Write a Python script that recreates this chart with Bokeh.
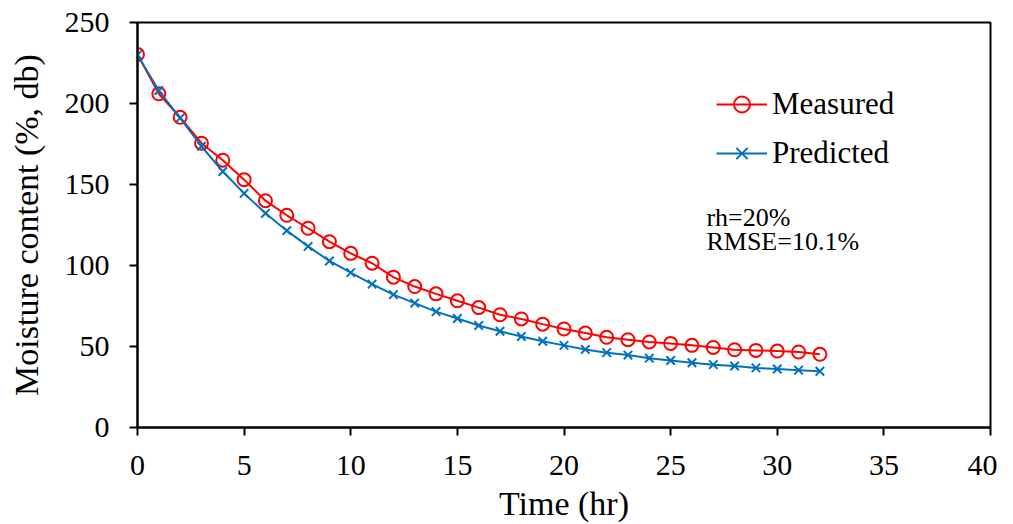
from bokeh.plotting import figure
from bokeh.models import Range1d, FixedTicker, Legend, LegendItem, Label
from bokeh.embed import file_html
from bokeh.resources import INLINE

time_hr = list(range(0, 33))
measured = [230.3, 206, 191.5, 175.5, 165, 153, 140, 131, 123, 114.7, 107.5, 101.4,
            92.8, 87, 82.5, 78.2, 74, 69.6, 67, 63.8, 60.8, 58.3, 55.7, 54.2, 52.8,
            51.9, 50.7, 49.4, 48, 47.6, 47.2, 46.6, 45.2]
predicted = [230, 208, 191, 173.6, 158, 144.5, 132.2, 121.5, 111.8, 102.8, 95.6, 88.5,
             82, 76.8, 71.5, 67.3, 63, 59.4, 56.2, 53.2, 50.7, 48.2, 46.2, 44.7, 42.8,
             41.4, 40, 38.8, 38, 36.8, 36.1, 35.4, 34.7]
x_ticks = [0, 5, 10, 15, 20, 25, 30, 35, 40]
y_ticks = [0, 50, 100, 150, 200, 250]
series_names = ["Measured", "Predicted"]
note_lines = ["rh=20%", "RMSE=10.1%"]

FONT = "Liberation Serif"
RED = "#FF0000"
BLUE = "#0070C0"

p = figure(width=997, height=524, output_backend="svg", toolbar_location=None,
           x_range=Range1d(0, 40), y_range=Range1d(0, 250),
           min_border_left=137, min_border_right=7, min_border_top=22, min_border_bottom=95)
p.xgrid.visible = False
p.ygrid.visible = False
p.outline_line_color = "black"
p.outline_line_width = 2
p.background_fill_color = "white"
p.border_fill_color = "white"

for ax, ticks in ((p.xaxis[0], x_ticks), (p.yaxis[0], y_ticks)):
    ax.ticker = FixedTicker(ticks=ticks)
    ax.minor_tick_line_color = None
    ax.major_tick_in = 0
    ax.major_tick_out = 8
    ax.major_tick_line_width = 2
    ax.axis_line_width = 2
    ax.axis_line_color = "black"
    ax.major_tick_line_color = "black"
    ax.major_label_text_font = FONT
    ax.major_label_text_font_size = "30px"
    ax.major_label_text_color = "black"
    ax.axis_label_text_font = FONT
    ax.axis_label_text_font_size = "34px"
    ax.axis_label_text_font_style = "normal"
    ax.axis_label_text_color = "black"

p.xaxis.axis_label = "Time (hr)"
p.yaxis.axis_label = "Moisture content (%, db)"
p.xaxis.major_label_standoff = 20
p.xaxis.axis_label_standoff = 7
p.yaxis.major_label_standoff = 20
p.yaxis.axis_label_standoff = 17

l1 = p.line(time_hr, measured, line_color=RED, line_width=2)
s1 = p.scatter(time_hr, measured, marker="circle", size=13, line_color=RED,
               line_width=2, fill_alpha=0)
l2 = p.line(time_hr, predicted, line_color=BLUE, line_width=2)
s2 = p.scatter(time_hr, predicted, marker="x", size=12, line_color=BLUE, line_width=2)

legend = Legend(items=[LegendItem(label=series_names[0], renderers=[l1, s1]),
                       LegendItem(label=series_names[1], renderers=[l2, s2])],
                location=(579, 254), orientation="vertical",
                glyph_width=51, glyph_height=40, label_height=40, spacing=9,
                label_standoff=5, padding=0, margin=0,
                border_line_alpha=0, background_fill_alpha=0,
                label_text_font=FONT, label_text_font_size="31px",
                label_text_color="black")
p.add_layout(legend, "center")

p.add_layout(Label(x=26.68, y=129.5, text=note_lines[0], text_font=FONT,
                   text_font_size="26px", text_color="black", text_baseline="alphabetic"))
p.add_layout(Label(x=26.68, y=115.0, text=note_lines[1], text_font=FONT,
                   text_font_size="26px", text_color="black", text_baseline="alphabetic"))

open("out.html", "w").write(file_html(p, INLINE))
